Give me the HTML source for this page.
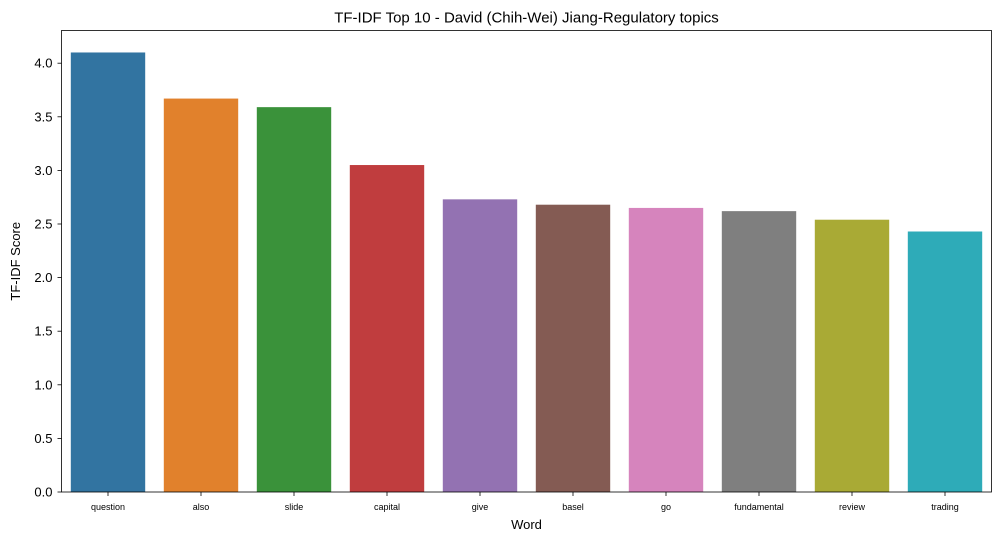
<!DOCTYPE html>
<html><head><meta charset="utf-8"><style>
body{margin:0;background:#fff;font-family:"Liberation Sans","DejaVu Sans",sans-serif;}
</style></head><body>
<svg id="chart" width="1004" height="541" xmlns="http://www.w3.org/2000/svg"></svg>
<script>
const categories=["question","also","slide","capital","give","basel","go","fundamental","review","trading"];
const scores=[4.10,3.67,3.59,3.05,2.73,2.68,2.65,2.62,2.54,2.43];
const colors=["#3274a1","#e1812c","#3a923a","#c03d3e","#9372b2","#845b53","#d684bd","#7f7f7f","#a9aa35","#2eabb8"];
const yTicks=[0,0.5,1.0,1.5,2.0,2.5,3.0,3.5,4.0];
const L=61.5,R=991.5,T=30.5,B=492,yMax=4.305;
const svg=document.getElementById('chart');
const NS="http://www.w3.org/2000/svg";
function y(v){return B-(v/yMax)*(B-T);}
const band=(R-L)/categories.length;
function x(i){return L+band*i;}
function mk(tag,attrs,text){const e=document.createElementNS(NS,tag);for(const k in attrs)e.setAttribute(k,attrs[k]);if(text!==undefined)e.textContent=text;svg.appendChild(e);return e;}
categories.forEach((c,i)=>{
  const b=mk('rect',{x:x(i)+band*0.1,y:y(scores[i]),width:band*0.8,height:B-y(scores[i]),fill:colors[i]});
  
  
  mk('line',{x1:x(i)+band/2,x2:x(i)+band/2,y1:B,y2:B+4,stroke:'#000','stroke-width':0.8});
  const t=mk('text',{x:x(i)+band/2,y:B+18,'font-size':9,'text-anchor':'middle'},c);
  
  
});
yTicks.forEach(v=>{
  mk('line',{x1:L-4,x2:L,y1:y(v),y2:y(v),stroke:'#000','stroke-width':0.8});
  const t=mk('text',{x:L-9,y:y(v)+4.5,'font-size':13,'text-anchor':'end'},v.toFixed(1));
  
  
});
const ax=mk('rect',{x:L,y:T,width:R-L,height:B-T,fill:'none',stroke:'#000','stroke-width':0.8});


const ti=mk('text',{x:(L+R)/2,y:T-8,'font-size':15,'text-anchor':'middle'},'TF-IDF Top 10 - David (Chih-Wei) Jiang-Regulatory topics');


const xt=mk('text',{x:(L+R)/2,y:529,'font-size':13,'text-anchor':'middle'},'Word');


const yt=mk('text',{x:20,y:(T+B)/2,'font-size':13,'text-anchor':'middle',transform:`rotate(-90 20 ${(T+B)/2})`},'TF-IDF Score');


</script>
</body></html>
